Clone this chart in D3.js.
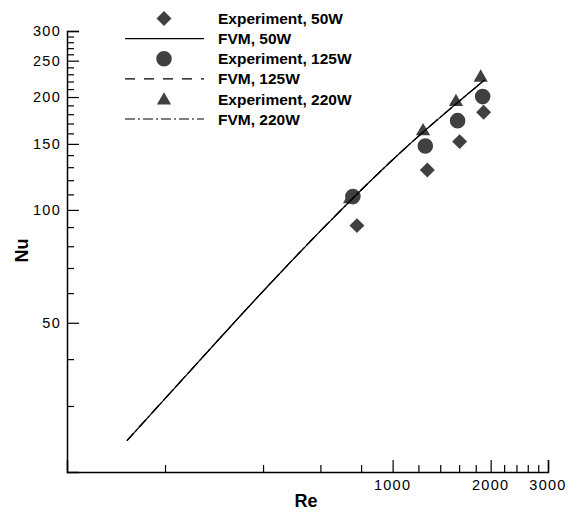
<!DOCTYPE html>
<html>
<head>
<meta charset="utf-8">
<script src="https://cdn.jsdelivr.net/npm/d3@7"></script>
<style>
  html, body { margin: 0; padding: 0; background: #fff; }
  svg { display: block; }
  text { font-family: "Liberation Sans", Arial, Helvetica, sans-serif; fill: #000; }
</style>
</head>
<body>
<svg id="chart" width="581" height="513"></svg>
<script>
// Experimental Nusselt numbers
const exp50Re  = [777, 1278, 1606, 1903];
const exp50Nu  = [90.8, 127.8, 152.1, 182.2];
const exp125Re = [755, 1260, 1583, 1890];
const exp125Nu = [108.5, 148, 173, 200.5];
const exp220Re = [740, 1240, 1565, 1864];
const exp220Nu = [106.9, 162.1, 194.1, 225.4];

// FVM predictions (the three curves coincide)
const fvmRe    = [152.8, 237.9, 390.5, 640.5, 1051, 1917];
const fvm50Nu  = [24.25, 37.05, 59.33, 93.1, 141.6, 222.2];
const fvm125Nu = [24.25, 37.05, 59.33, 93.1, 141.6, 222.2];
const fvm220Nu = [24.25, 37.05, 59.33, 93.1, 141.6, 222.2];

// Axis ticks
const xMajor = [1000, 2000, 3000];
const xMinor = [200, 400, 600, 800, 1200, 1400, 1600, 1800, 2200, 2400, 2600, 2800];
const yMajor = [50, 100, 150, 200, 250, 300];
const yMinor = [30, 40, 60, 70, 80, 90, 110, 120, 130, 140, 160, 170, 180, 190,
                210, 220, 230, 240, 260, 270, 280, 290];

const legendLabels = ["Experiment, 50W", "FVM, 50W", "Experiment, 125W",
                      "FVM, 125W", "Experiment, 220W", "FVM, 220W"];

const markerColor = "#404040";
const svg = d3.select("#chart");

const x = d3.scaleLog().domain([100, 3000]).range([67, 548]);
const y = d3.scaleLog().domain([20, 300]).range([472, 31]);

// Axes: ticks point inward
const fmt = d3.format("d");
const xAxisMajor = d3.axisTop(x).tickValues(xMajor).tickSize(12).tickFormat("");
const xAxisMinor = d3.axisTop(x).tickValues(xMinor).tickSize(7).tickFormat("");
const yAxisMajor = d3.axisRight(y).tickValues(yMajor).tickSize(12).tickFormat("");
const yAxisMinor = d3.axisRight(y).tickValues(yMinor).tickSize(7).tickFormat("");

function styleAxis(g) {
  g.select(".domain").attr("stroke", "#000").attr("stroke-width", 1.5);
  g.selectAll(".tick line").attr("stroke", "#000").attr("stroke-width", 1.2);
}

svg.append("g").attr("transform", `translate(0,${y.range()[0]})`).call(xAxisMajor).call(styleAxis);
svg.append("g").attr("transform", `translate(0,${y.range()[0]})`).call(xAxisMinor).call(styleAxis)
  .select(".domain").remove();
svg.append("g").attr("transform", `translate(${x.range()[0]},0)`).call(yAxisMajor).call(styleAxis);
svg.append("g").attr("transform", `translate(${x.range()[0]},0)`).call(yAxisMinor).call(styleAxis)
  .select(".domain").remove();

// Tick labels
svg.append("g").selectAll("text").data(xMajor).join("text")
  .attr("x", d => x(d)).attr("y", 490)
  .attr("text-anchor", "middle")
  .style("font-size", "14.5px").style("letter-spacing", "1.3px")
  .text(d => fmt(d));

svg.append("g").selectAll("text").data(yMajor).join("text")
  .attr("x", 61).attr("y", d => y(d)).attr("dy", "0.36em")
  .attr("text-anchor", "end")
  .style("font-size", "14.5px").style("letter-spacing", "1.3px")
  .text(d => fmt(d));

// Axis titles
svg.append("text").attr("x", 306).attr("y", 506.5).attr("text-anchor", "middle")
  .style("font-size", "18px").style("font-weight", "bold").text("Re");
svg.append("text").attr("transform", "translate(27.5,250.5) rotate(-90)")
  .attr("text-anchor", "middle")
  .style("font-size", "18px").style("font-weight", "bold").text("Nu");

// Marker shapes
const diamond = d3.symbol().type(d3.symbolSquare).size(112);
const circle = d3.symbol().type(d3.symbolCircle).size(190);
const triangle = d3.symbol().type(d3.symbolTriangle).size(88);

function drawPoints(reArr, nuArr, sym, rotate) {
  svg.append("g").selectAll("path").data(reArr.map((r, i) => [r, nuArr[i]])).join("path")
    .attr("d", sym())
    .attr("transform", d => `translate(${x(d[0])},${y(d[1])})` + (rotate ? " rotate(45)" : ""))
    .attr("fill", markerColor);
}
drawPoints(exp220Re, exp220Nu, triangle, false);
drawPoints(exp125Re, exp125Nu, circle, false);
drawPoints(exp50Re, exp50Nu, diamond, true);

// FVM curves
const line = d3.line().x(d => x(d[0])).y(d => y(d[1])).curve(d3.curveMonotoneX);
function drawCurve(nuArr, dash) {
  svg.append("path")
    .datum(fvmRe.map((r, i) => [r, nuArr[i]]))
    .attr("d", line)
    .attr("fill", "none").attr("stroke", "#000").attr("stroke-width", 1.2)
    .attr("stroke-dasharray", dash);
}
drawCurve(fvm220Nu, "10,3,2,3");
drawCurve(fvm125Nu, "10,9");
drawCurve(fvm50Nu, null);

// Legend
const leg = svg.append("g");
const rowY = i => 18.5 + i * 20.1;
const lx0 = 125, lx1 = 204, mx = 164;

leg.append("path").attr("d", diamond()).attr("fill", markerColor)
  .attr("transform", `translate(${mx},${rowY(0)}) rotate(45)`);
leg.append("path").attr("d", circle()).attr("fill", markerColor)
  .attr("transform", `translate(${mx},${rowY(2)})`);
leg.append("path").attr("d", triangle()).attr("fill", markerColor)
  .attr("transform", `translate(${mx},${rowY(4) + 1.5})`);

[[1, null], [3, "10,9"], [5, "10,3,2,3"]].forEach(([i, dash]) => {
  leg.append("line").attr("x1", lx0).attr("x2", lx1)
    .attr("y1", rowY(i)).attr("y2", rowY(i))
    .attr("stroke", "#000").attr("stroke-width", 1.2)
    .attr("stroke-dasharray", dash);
});

leg.selectAll("text").data(legendLabels).join("text")
  .attr("x", 218).attr("y", (d, i) => rowY(i) + 5.6)
  .style("font-size", "15.5px").style("font-weight", "bold")
  .text(d => d);
</script>
</body>
</html>
